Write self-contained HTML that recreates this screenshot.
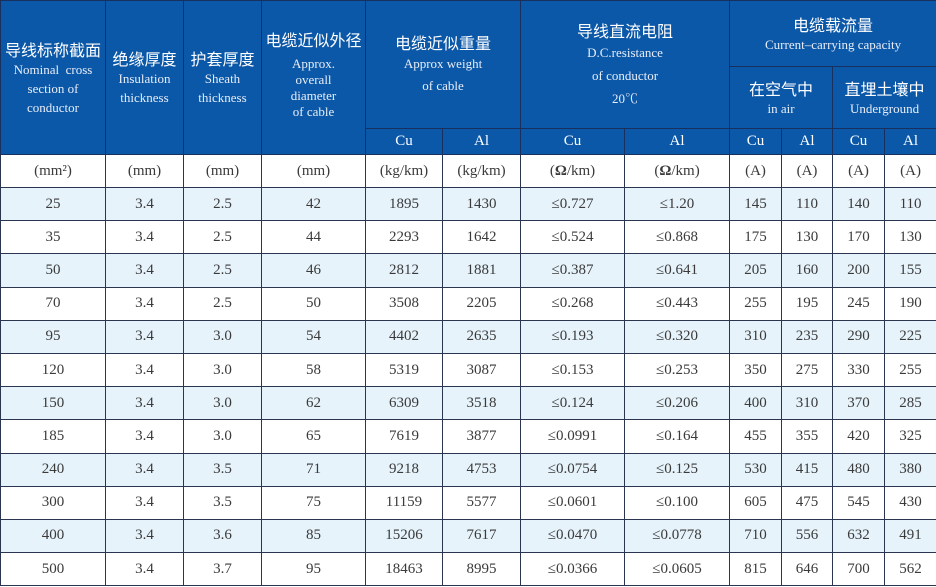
<!DOCTYPE html>
<html><head><meta charset="utf-8"><style>
html,body{margin:0;padding:0;background:#fff;}
body{width:936px;height:587px;overflow:hidden;}
table{border-collapse:collapse;table-layout:fixed;width:936px;font-family:"Liberation Serif","Noto Serif CJK SC",serif;}
td{border:1px solid #2a3550;text-align:center;vertical-align:middle;padding:0;font-size:15px;color:#3a3a3a;overflow:hidden;}
.h td{background:#0b57a8;color:#fff;border-color:#17305e;}
.cn{font-family:"Noto Sans CJK SC","WenQuanYi Zen Hei",sans-serif;font-size:16px;font-weight:normal;line-height:21px;}
.en{font-size:13px;line-height:19px;color:#e8eef8;}
.u td{height:32px;}
.d td{height:32.2px;}
.d.b td{background:#e6f3fb;}
</style></head><body>
<table>
<colgroup><col style="width:105px"><col style="width:78px"><col style="width:78px"><col style="width:104px"><col style="width:77px"><col style="width:78px"><col style="width:104px"><col style="width:105px"><col style="width:52px"><col style="width:51px"><col style="width:52px"><col style="width:52px"></colgroup>
<tr class="h" style="height:66px">
<td rowspan="3"><div class="cn">导线标称截面</div><div class="en">Nominal&nbsp; cross<br>section of<br>conductor</div></td>
<td rowspan="3"><div class="cn">绝缘厚度</div><div class="en">Insulation<br>thickness</div></td>
<td rowspan="3"><div class="cn">护套厚度</div><div class="en">Sheath<br>thickness</div></td>
<td rowspan="3" style="vertical-align:top;padding-top:28px"><div class="cn" style="margin-bottom:6px">电缆近似外径</div><div class="en" style="line-height:16px">Approx.<br>overall<br>diameter<br>of cable</div></td>
<td rowspan="2" colspan="2"><div class="cn">电缆近似重量</div><div class="en" style="line-height:22px">Approx weight<br>of cable</div></td>
<td rowspan="2" colspan="2"><div class="cn">导线直流电阻</div><div class="en" style="line-height:23px">D.C.resistance<br>of conductor<br>20℃</div></td>
<td colspan="4"><div class="cn">电缆载流量</div><div class="en">Current–carrying capacity</div></td>
</tr>
<tr class="h" style="height:62px">
<td colspan="2"><div class="cn">在空气中</div><div class="en">in air</div></td>
<td colspan="2"><div class="cn">直埋土壤中</div><div class="en">Underground</div></td>
</tr>
<tr class="h" style="height:26px">
<td>Cu</td><td>Al</td><td>Cu</td><td>Al</td><td>Cu</td><td>Al</td><td>Cu</td><td>Al</td>
</tr>
<tr class="u"><td>(mm²)</td><td>(mm)</td><td>(mm)</td><td>(mm)</td><td>(kg/km)</td><td>(kg/km)</td><td>(<b>Ω</b>/km)</td><td>(<b>Ω</b>/km)</td><td>(A)</td><td>(A)</td><td>(A)</td><td>(A)</td></tr>
<tr class="d b"><td>25</td><td>3.4</td><td>2.5</td><td>42</td><td>1895</td><td>1430</td><td>≤0.727</td><td>≤1.20</td><td>145</td><td>110</td><td>140</td><td>110</td></tr>
<tr class="d"><td>35</td><td>3.4</td><td>2.5</td><td>44</td><td>2293</td><td>1642</td><td>≤0.524</td><td>≤0.868</td><td>175</td><td>130</td><td>170</td><td>130</td></tr>
<tr class="d b"><td>50</td><td>3.4</td><td>2.5</td><td>46</td><td>2812</td><td>1881</td><td>≤0.387</td><td>≤0.641</td><td>205</td><td>160</td><td>200</td><td>155</td></tr>
<tr class="d"><td>70</td><td>3.4</td><td>2.5</td><td>50</td><td>3508</td><td>2205</td><td>≤0.268</td><td>≤0.443</td><td>255</td><td>195</td><td>245</td><td>190</td></tr>
<tr class="d b"><td>95</td><td>3.4</td><td>3.0</td><td>54</td><td>4402</td><td>2635</td><td>≤0.193</td><td>≤0.320</td><td>310</td><td>235</td><td>290</td><td>225</td></tr>
<tr class="d"><td>120</td><td>3.4</td><td>3.0</td><td>58</td><td>5319</td><td>3087</td><td>≤0.153</td><td>≤0.253</td><td>350</td><td>275</td><td>330</td><td>255</td></tr>
<tr class="d b"><td>150</td><td>3.4</td><td>3.0</td><td>62</td><td>6309</td><td>3518</td><td>≤0.124</td><td>≤0.206</td><td>400</td><td>310</td><td>370</td><td>285</td></tr>
<tr class="d"><td>185</td><td>3.4</td><td>3.0</td><td>65</td><td>7619</td><td>3877</td><td>≤0.0991</td><td>≤0.164</td><td>455</td><td>355</td><td>420</td><td>325</td></tr>
<tr class="d b"><td>240</td><td>3.4</td><td>3.5</td><td>71</td><td>9218</td><td>4753</td><td>≤0.0754</td><td>≤0.125</td><td>530</td><td>415</td><td>480</td><td>380</td></tr>
<tr class="d"><td>300</td><td>3.4</td><td>3.5</td><td>75</td><td>11159</td><td>5577</td><td>≤0.0601</td><td>≤0.100</td><td>605</td><td>475</td><td>545</td><td>430</td></tr>
<tr class="d b"><td>400</td><td>3.4</td><td>3.6</td><td>85</td><td>15206</td><td>7617</td><td>≤0.0470</td><td>≤0.0778</td><td>710</td><td>556</td><td>632</td><td>491</td></tr>
<tr class="d"><td>500</td><td>3.4</td><td>3.7</td><td>95</td><td>18463</td><td>8995</td><td>≤0.0366</td><td>≤0.0605</td><td>815</td><td>646</td><td>700</td><td>562</td></tr>
</table>
</body></html>
